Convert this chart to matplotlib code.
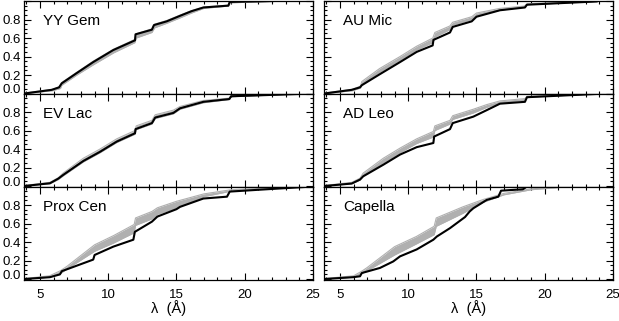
import numpy as np
import matplotlib
matplotlib.use('Agg')
import matplotlib.pyplot as plt
import matplotlib.transforms as mtransforms
from matplotlib.ticker import MultipleLocator

plt.rcParams['font.family'] = ['Liberation Sans', 'DejaVu Sans']
plt.rcParams['font.size'] = 9

# star names, in panel order (left column top->bottom, right column top->bottom)
names = ['YY Gem', 'EV Lac', 'Prox Cen', 'AU Mic', 'AD Leo', 'Capella']

# observed cumulative distributions (black)
yygem_x = [3.83, 5.86, 6.4, 6.59, 7.68, 8.9, 10.37, 11.96, 12.0, 13.2, 13.35, 14.28, 15.26, 16.1, 16.97, 18.8, 18.9, 22.1]
yygem_y = [0.0, 0.04, 0.067, 0.11, 0.22, 0.34, 0.47, 0.575, 0.64, 0.69, 0.74, 0.78, 0.84, 0.89, 0.93, 0.95, 0.99, 1.0]
evlac_x = [3.83, 5.73, 6.34, 6.7, 8.17, 9.4, 10.62, 11.96, 12.0, 13.2, 13.44, 14.77, 15.26, 16.97, 18.87, 19.0, 24.0]
evlac_y = [0.0, 0.03, 0.08, 0.12, 0.27, 0.37, 0.48, 0.57, 0.615, 0.68, 0.74, 0.79, 0.84, 0.91, 0.94, 0.97, 0.995]
proxcen_x = [3.83, 5.73, 6.46, 6.6, 8.9, 9.0, 10.37, 11.84, 11.95, 13.2, 13.6, 15.0, 15.26, 16.97, 18.7, 18.9, 21.6, 25.0]
proxcen_y = [0.0, 0.02, 0.05, 0.085, 0.21, 0.26, 0.35, 0.425, 0.51, 0.62, 0.675, 0.755, 0.78, 0.87, 0.89, 0.945, 0.97, 1.0]
aumic_x = [3.83, 5.86, 6.47, 6.6, 7.93, 9.4, 10.62, 11.79, 11.85, 13.06, 13.26, 14.65, 15.0, 16.72, 18.55, 18.7, 23.8]
aumic_y = [0.0, 0.04, 0.067, 0.09, 0.21, 0.34, 0.45, 0.52, 0.58, 0.66, 0.72, 0.78, 0.83, 0.90, 0.93, 0.96, 0.995]
adleo_x = [3.83, 5.86, 6.47, 6.7, 8.17, 9.4, 10.62, 11.84, 11.9, 13.06, 13.26, 14.77, 15.75, 16.72, 18.55, 18.7, 23.8]
adleo_y = [0.0, 0.027, 0.07, 0.105, 0.23, 0.34, 0.42, 0.465, 0.535, 0.615, 0.68, 0.75, 0.82, 0.89, 0.91, 0.96, 0.995]
capella_x = [3.83, 5.97, 6.47, 6.6, 7.93, 8.9, 9.4, 10.62, 11.84, 12.1, 13.06, 14.16, 14.5, 14.77, 15.75, 16.6, 16.8, 18.4, 18.7, 22.0]
capella_y = [0.0, 0.02, 0.03, 0.065, 0.12, 0.19, 0.245, 0.32, 0.425, 0.46, 0.55, 0.67, 0.73, 0.765, 0.855, 0.89, 0.955, 0.97, 1.0, 1.0]

# model envelopes (gray bands)
yygem_gx = [3.83, 5.9, 6.5, 6.6, 7.7, 8.9, 10.4, 11.95, 12.05, 13.2, 13.4, 14.3, 15.3, 16.1, 17.0, 18.8, 18.95, 22.0, 25.0]
yygem_lo = [0.0, 0.03, 0.055, 0.09, 0.20, 0.31, 0.44, 0.55, 0.60, 0.66, 0.71, 0.76, 0.82, 0.87, 0.92, 0.945, 0.98, 0.995, 1.0]
yygem_hi = [0.005, 0.045, 0.075, 0.12, 0.23, 0.35, 0.48, 0.585, 0.645, 0.70, 0.75, 0.79, 0.85, 0.895, 0.935, 0.955, 0.99, 1.0, 1.0]
evlac_gx = [3.83, 5.73, 6.34, 6.7, 8.17, 9.4, 10.62, 11.96, 12.05, 13.2, 13.44, 14.77, 15.26, 16.97, 18.87, 19.0, 24.0]
evlac_lo = [0.0, 0.025, 0.07, 0.11, 0.26, 0.36, 0.47, 0.56, 0.61, 0.67, 0.73, 0.78, 0.83, 0.90, 0.935, 0.965, 0.995]
evlac_hi = [0.005, 0.04, 0.09, 0.14, 0.30, 0.40, 0.51, 0.60, 0.65, 0.71, 0.77, 0.82, 0.86, 0.925, 0.95, 0.98, 1.0]
proxcen_gx = [3.83, 5.7, 6.5, 7.0, 9.0, 10.4, 11.9, 12.0, 13.2, 13.6, 15.0, 17.0, 19.0, 22.0, 25.0]
proxcen_lo = [0.0, 0.02, 0.06, 0.11, 0.30, 0.39, 0.50, 0.58, 0.65, 0.70, 0.77, 0.89, 0.95, 0.98, 1.0]
proxcen_hi = [0.005, 0.035, 0.09, 0.14, 0.37, 0.47, 0.59, 0.66, 0.73, 0.77, 0.84, 0.92, 0.965, 0.985, 1.0]
aumic_gx = [3.83, 5.9, 6.5, 6.6, 7.9, 9.4, 10.6, 11.8, 11.95, 13.05, 13.25, 14.65, 15.0, 16.7, 18.5, 18.7, 23.8]
aumic_lo = [0.0, 0.03, 0.06, 0.10, 0.23, 0.36, 0.47, 0.55, 0.61, 0.69, 0.74, 0.80, 0.84, 0.90, 0.935, 0.96, 0.995]
aumic_hi = [0.005, 0.045, 0.08, 0.13, 0.27, 0.40, 0.51, 0.60, 0.66, 0.73, 0.77, 0.83, 0.87, 0.92, 0.945, 0.97, 1.0]
adleo_gx = [3.83, 5.86, 6.47, 6.7, 8.17, 9.4, 10.62, 11.84, 11.95, 13.06, 13.26, 14.77, 15.75, 16.72, 18.55, 18.7, 23.8]
adleo_lo = [0.0, 0.025, 0.065, 0.11, 0.25, 0.36, 0.46, 0.53, 0.60, 0.67, 0.72, 0.79, 0.85, 0.90, 0.93, 0.96, 0.995]
adleo_hi = [0.005, 0.04, 0.085, 0.14, 0.30, 0.41, 0.51, 0.59, 0.65, 0.71, 0.76, 0.83, 0.88, 0.92, 0.945, 0.97, 1.0]
capella_gx = [3.83, 6.0, 6.6, 7.0, 9.0, 10.6, 11.9, 12.05, 14.0, 15.5, 17.0, 19.0, 22.0]
capella_lo = [0.0, 0.02, 0.06, 0.09, 0.26, 0.38, 0.48, 0.57, 0.71, 0.83, 0.91, 0.965, 1.0]
capella_hi = [0.005, 0.035, 0.085, 0.125, 0.35, 0.46, 0.57, 0.66, 0.78, 0.86, 0.925, 0.975, 1.0]

obs = [(yygem_x, yygem_y), (evlac_x, evlac_y), (proxcen_x, proxcen_y),
       (aumic_x, aumic_y), (adleo_x, adleo_y), (capella_x, capella_y)]
bands = [(yygem_gx, yygem_lo, yygem_hi), (evlac_gx, evlac_lo, evlac_hi),
         (proxcen_gx, proxcen_lo, proxcen_hi), (aumic_gx, aumic_lo, aumic_hi),
         (adleo_gx, adleo_lo, adleo_hi), (capella_gx, capella_lo, capella_hi)]

W, H = 619, 321
fig = plt.figure(figsize=(W / 100, H / 100), dpi=100)

col_x0 = [24 / W, 324 / W]
col_w = [289 / W, 289 / W]
row_top = [1.0, 93.5, 186.5]  # pixel rows of panel tops
row_h = 93.0

gray = '#b0b0b0'
for i, name in enumerate(names):
    col, row = divmod(i, 3)
    y0 = 1 - (row_top[row] + row_h) / H
    ax = fig.add_axes([col_x0[col], y0, col_w[col], row_h / H])

    gx, lo, hi = bands[i]
    ax.fill_between(gx, lo, hi, color=gray, lw=0)
    ax.plot(gx, lo, color=gray, lw=0.8)
    ax.plot(gx, hi, color=gray, lw=0.8)
    bx, by = obs[i]
    ax.plot(bx, by, color='black', lw=1.5)

    ax.set_xlim(3.83, 25.0)
    ax.set_ylim(-0.005, 1.0)
    ax.xaxis.set_major_locator(MultipleLocator(5))
    ax.xaxis.set_minor_locator(MultipleLocator(1))
    ax.set_yticks([0.0, 0.2, 0.4, 0.6, 0.8, 1.0])
    ax.yaxis.set_minor_locator(MultipleLocator(0.05))
    ax.tick_params(which='both', direction='in', top=True, right=True, width=0.8)
    ax.tick_params(which='major', length=5, labelsize=9.5, pad=2)
    ax.tick_params(which='minor', length=2.5)
    ax.tick_params(axis='x', which='major', pad=7, labelsize=9.5)
    for s in ax.spines.values():
        s.set_linewidth(0.9)

    if col == 0:
        ax.set_yticklabels(['0.0', '0.2', '0.4', '0.6', '0.8', ''])
        # the 0.0 label sits a little above its tick, as in the original
        lab0 = ax.get_yticklabels()[0]
        lab0.set_transform(lab0.get_transform() +
                           mtransforms.ScaledTranslation(0, 3.5 / 72, fig.dpi_scale_trans))
    else:
        ax.set_yticklabels([])
    if row == 2:
        ax.set_xticks([5, 10, 15, 20, 25])
        ax.set_xticklabels(['5', '10', '15', '20', '25'])
        ax.set_xlabel('λ  (Å)', fontsize=10.5, labelpad=-1)
    else:
        ax.set_xticklabels([])

    ax.text(0.066, 0.78, name, transform=ax.transAxes, fontsize=11,
            ha='left', va='center')

fig.savefig('out.png', dpi=100)
